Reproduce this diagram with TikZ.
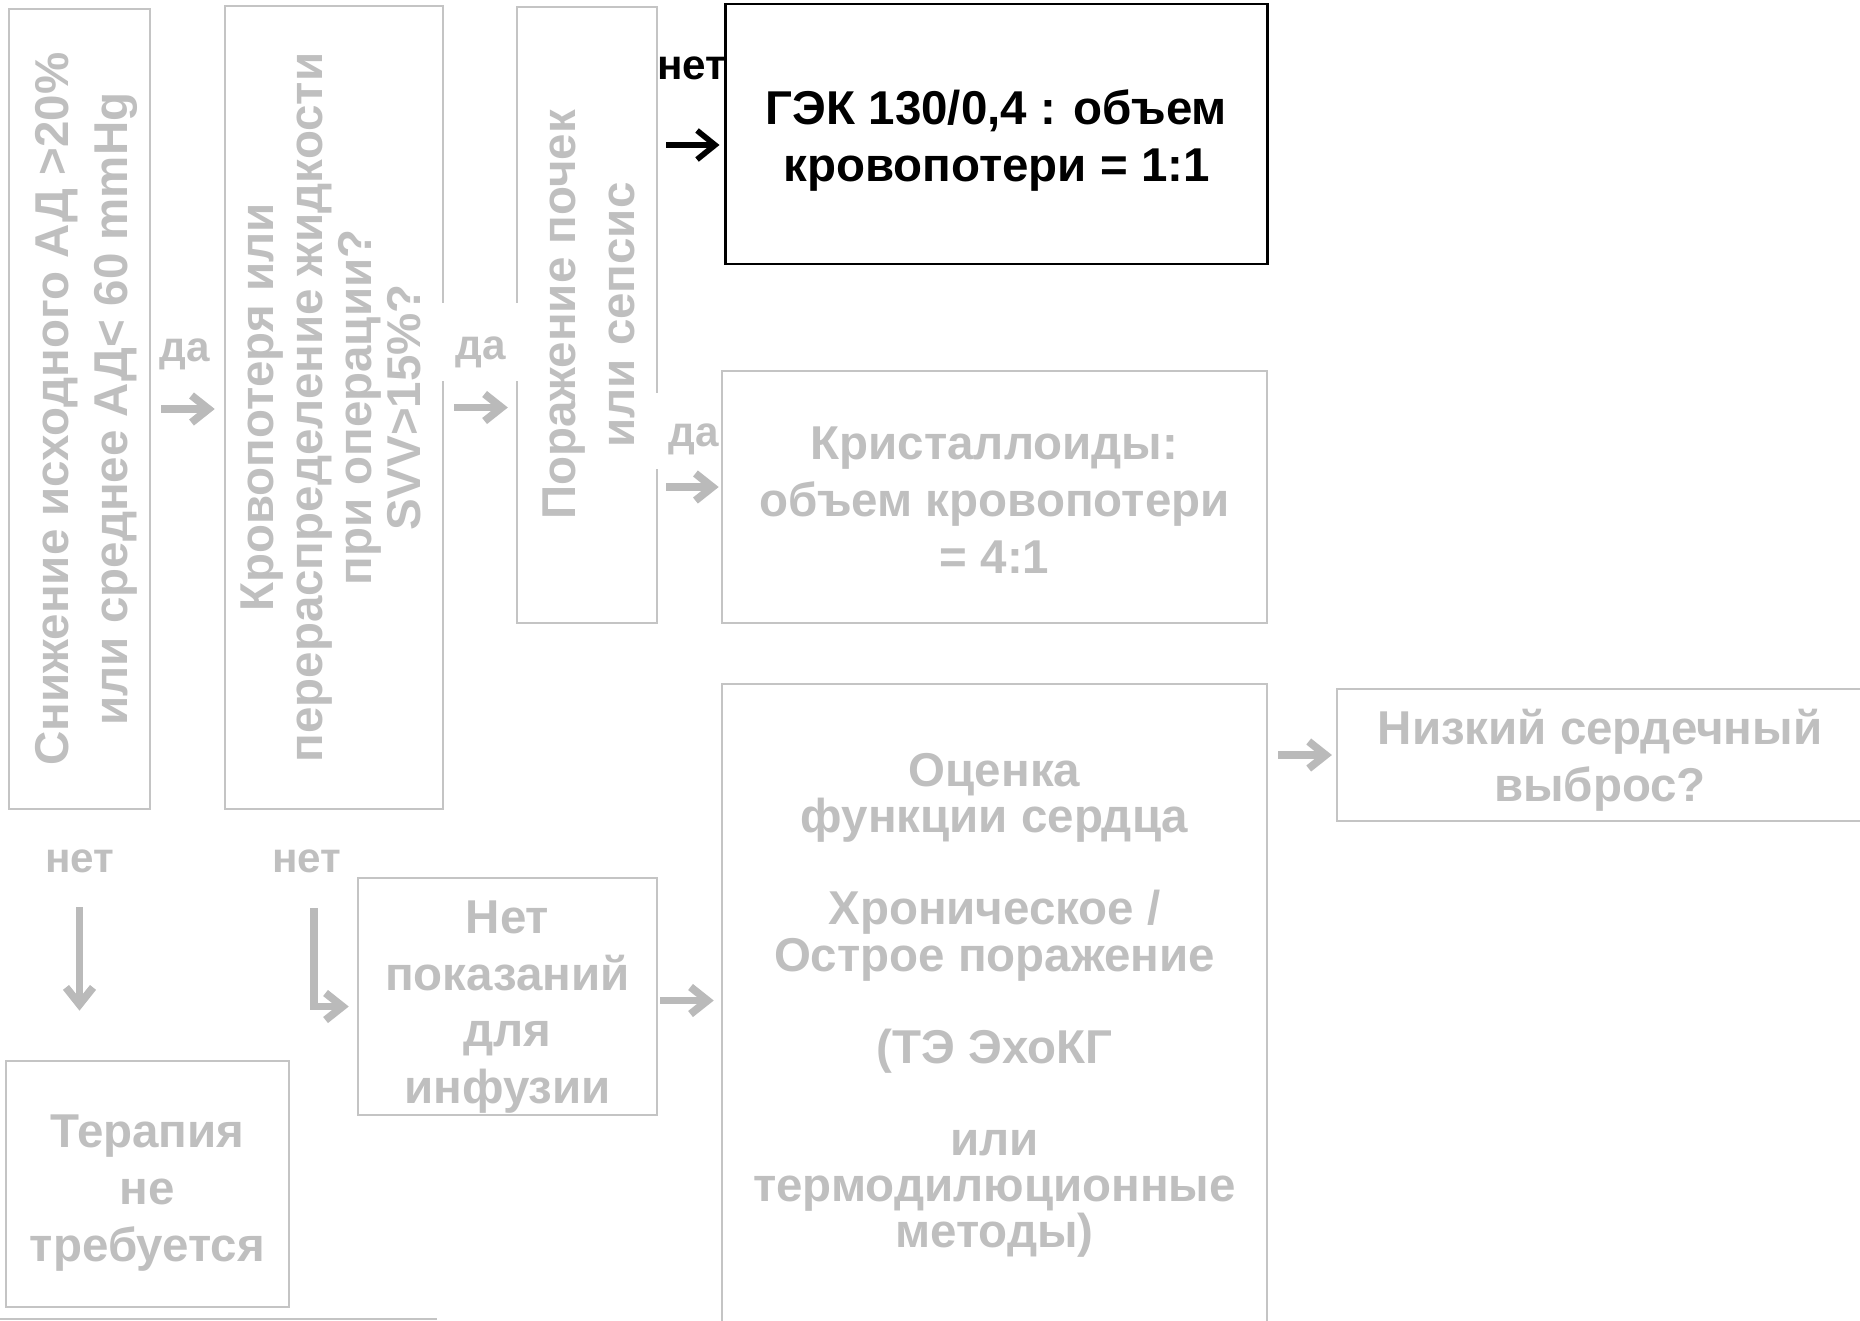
\documentclass[tikz,border=0pt]{standalone}
\usepackage{fontspec}
\setmainfont{Liberation Sans}
\usetikzlibrary{arrows.meta,positioning,calc}
\definecolor{txtgray}{RGB}{191,191,191}
\definecolor{linegray}{RGB}{196,196,196}
\definecolor{argray}{RGB}{186,186,186}
\newcommand{\topgap}[1]{\rule{0pt}{#1}}
\tikzset{
  box/.style={rectangle, draw=linegray, line width=0.6pt, fill=white,
    inner sep=0pt, align=center, text=txtgray,
    font=\fontsize{13.5}{16.2}\selectfont\bfseries},
  boxblack/.style={box, draw=black, line width=0.8pt, text=black},
  vtext/.style={rotate=90, inner sep=0pt, align=center, text=txtgray},
  lab/.style={inner sep=0pt, text=txtgray, font=\fontsize{12}{14}\selectfont\bfseries},
  gap/.style={fill=white, inner sep=0pt},
  ar/.style={-{Straight Barb[length=1.7mm,width=2.7mm]}, line width=2.2pt, draw=argray},
  arblack/.style={-{Straight Barb[length=1.8mm,width=2.9mm]}, line width=1.6pt, draw=black},
}

\begin{document}
\begin{tikzpicture}[x=0.01cm, y=-0.01cm]
\useasboundingbox (0,0) rectangle (1860,1320);

% ===================== LEFT : VERTICAL QUESTIONS =====================
\node[box, minimum width=1.41cm, minimum height=8.00cm] (A) at (79.5,409) {};
\node[box, minimum width=2.18cm, minimum height=8.03cm] (B) at (334,407.5) {};
\node[box, minimum width=1.40cm, minimum height=6.16cm] (C) at (587,315) {};

\node[vtext, font=\fontsize{13.5}{16.8}\selectfont\bfseries] (At) at ($(A.center)+(7,0)$)
  {Снижение исходного АД >20\%\\или среднее АД< 60 mmHg};
\node[vtext, font=\fontsize{13.5}{13.9}\selectfont\bfseries] (Bt) at ($(B.center)+(-3,0)$)
  {Кровопотеря или\\перераспределение жидкости\\при операции?\\SVV>15\%?};
\node[vtext, font=\fontsize{13.5}{16.8}\selectfont\bfseries] (Ct) at ($(C.center)+(2,0)$)
  {Поражение почек\\или сепсис};

% white grounds of the labels cut the borders
\node[gap, minimum width=0.80cm, minimum height=0.77cm] (gap2) at (481,342) {};
\node[gap, minimum width=0.66cm, minimum height=0.76cm] (gap3) at (688,431) {};

\node[lab] (da1) at (185,354) {да};
\node[lab] (da2) at (481,352) {да};
\node[lab] (da3) at (694,439) {да};
\node[lab, text=black] (net0) at (692,68) {нет};
\node[lab] (net1) at (80,861) {нет};
\node[lab] (net2) at (307,861) {нет};

% ===================== RIGHT : THERAPY BOXES =====================
\node[boxblack, minimum width=5.41cm, minimum height=2.60cm] (D) at (996.5,134)
  {\topgap{13.7pt}ГЭК 130/0,4 : объем\\кровопотери = 1:1};
\node[box, minimum width=5.45cm, minimum height=2.52cm] (E) at (994.5,497)
  {\topgap{11.2pt}Кристаллоиды:\\объем кровопотери\\= 4:1};
\node[box, minimum width=5.45cm, minimum height=6.38cm,
  font=\fontsize{13.5}{13.1}\selectfont\bfseries] (F) at (994.5,1003)
  {\topgap{10.8pt}Оценка\\функции сердца\\[13.1pt]Хроническое /\\Острое поражение\\[13.1pt](ТЭ ЭхоКГ\\[13.1pt]или\\термодилюционные\\методы)};
\node[box, minimum width=5.26cm, minimum height=1.32cm] (G) at (1600,755)
  {\topgap{13.3pt}Низкий сердечный\\выброс?};
\node[box, minimum width=2.99cm, minimum height=2.37cm] (H) at (507.5,996.5)
  {\topgap{15.3pt}Нет\\показаний\\для\\инфузии};
\node[box, minimum width=2.83cm, minimum height=2.46cm] (I) at (147.5,1184)
  {\topgap{14.3pt}Терапия\\не\\требуется};

\draw[linegray, line width=0.5pt] (0,1319) -- (437,1319);

% ===================== ARROWS =====================
\draw[ar, shorten <=2.9pt, shorten >=2.6pt] (A.east) -- (A.east -| B.west);
\draw[ar, shorten <=2.9pt, shorten >=2.3pt] (B.east) -- (B.east -| C.west);
\draw[arblack, shorten <=2.3pt, shorten >=1.4pt] ($(C.east |- D.west)+(0,11)$) -- ($(D.west)+(0,11)$);
\draw[ar, shorten <=2.3pt, shorten >=0.6pt] ($(C.east |- E.west)+(0,-10)$) -- ($(E.west)+(0,-10)$);
\draw[ar, shorten <=27.6pt, shorten >=14pt] (A.south) -- (A.south |- I.north);
\draw[ar, shorten <=27.9pt, shorten >=2.3pt] ($(B.south)+(-20,0)$) |- ($(H.west)+(0,10)$);
\draw[ar, shorten <=0.6pt, shorten >=2pt] ($(H.east)+(0,4)$) -- ($(H.east -| F.west)+(0,4)$);
\draw[ar, shorten <=2.9pt, shorten >=1.1pt] (F.east |- G.west) -- (G.west);

\end{tikzpicture}
\end{document}
